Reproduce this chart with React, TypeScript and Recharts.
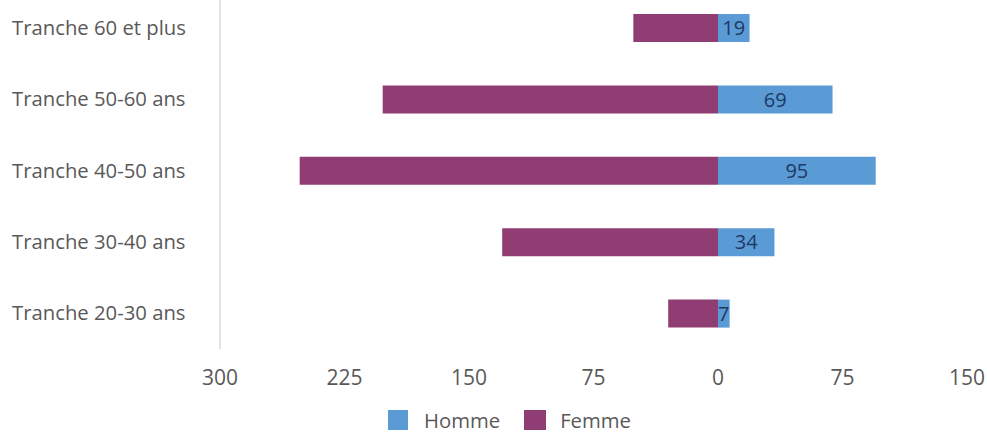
import React from 'react';
import { BarChart, Bar, XAxis, YAxis, Legend, LabelList } from 'recharts';

const categories = ['Tranche 60 et plus', 'Tranche 50-60 ans', 'Tranche 40-50 ans', 'Tranche 30-40 ans', 'Tranche 20-30 ans'];
const hommeValues = [19, 69, 95, 34, 7];
const femmeValues = [51, 202, 252, 130, 30];
const xTicks = [-300, -225, -150, -75, 0, 75, 150];

const data = categories.map((name, i) => ({ name, homme: hommeValues[i], femme: -femmeValues[i] }));

const FONT = '"Open Sans", sans-serif';
const BLUE = '#5B9BD5';
const PURPLE = '#8F3D73';

const YTick = (props: any) => {
  const { y, payload } = props;
  return (
    <text x={12} y={y} dy={7} textAnchor="start" fill="#595959" fontSize={20.3} fontFamily={FONT}>
      {payload.value}
    </text>
  );
};

const textStyle: React.CSSProperties = { display: 'inline-block', height: 20, lineHeight: '20px' };

const LegendContent = () => (
  <div style={{ display: 'flex', justifyContent: 'center', alignItems: 'center', height: 20, paddingLeft: 32, fontFamily: FONT, fontSize: 20.3, color: '#595959', lineHeight: '20px' }}>
    <span style={{ display: 'inline-block', width: 20, height: 20, background: BLUE, marginRight: 16 }} />
    <span style={{ ...textStyle, marginRight: 24 }}>Homme</span>
    <span style={{ display: 'inline-block', width: 22, height: 20, background: PURPLE, marginRight: 14 }} />
    <span style={textStyle}>Femme</span>
  </div>
);

export default function App() {
  return (
    <div style={{ position: 'absolute', left: 0, top: -8, width: 987, height: 442, background: '#fff' }}>
      <BarChart
        width={987}
        height={442}
        data={data}
        layout="vertical"
        stackOffset="sign"
        barSize={28}
        margin={{ top: 0, right: 20, bottom: 4, left: 0 }}
      >
        <XAxis
          type="number"
          domain={[-300, 150]}
          ticks={xTicks}
          tickFormatter={(v: number) => String(Math.abs(v))}
          axisLine={false}
          tickLine={false}
          tickSize={0}
          tickMargin={21}
          height={61}
          interval={0}
          tick={{ fill: '#595959', fontSize: 21, fontFamily: FONT }}
        />
        <YAxis
          type="category"
          dataKey="name"
          width={220}
          axisLine={{ stroke: '#D9D9D9', strokeWidth: 1.5 }}
          tickLine={false}
          tick={<YTick />}
        />
        <Legend verticalAlign="bottom" content={<LegendContent />} wrapperStyle={{ left: 0, width: 987, height: 20 }} />
        <Bar dataKey="homme" name="Homme" stackId="a" fill={BLUE} isAnimationActive={false}>
          <LabelList dataKey="homme" position="center" fill="#203864" fontSize={20} fontFamily={FONT} />
        </Bar>
        <Bar dataKey="femme" name="Femme" stackId="a" fill={PURPLE} isAnimationActive={false} />
      </BarChart>
    </div>
  );
}
